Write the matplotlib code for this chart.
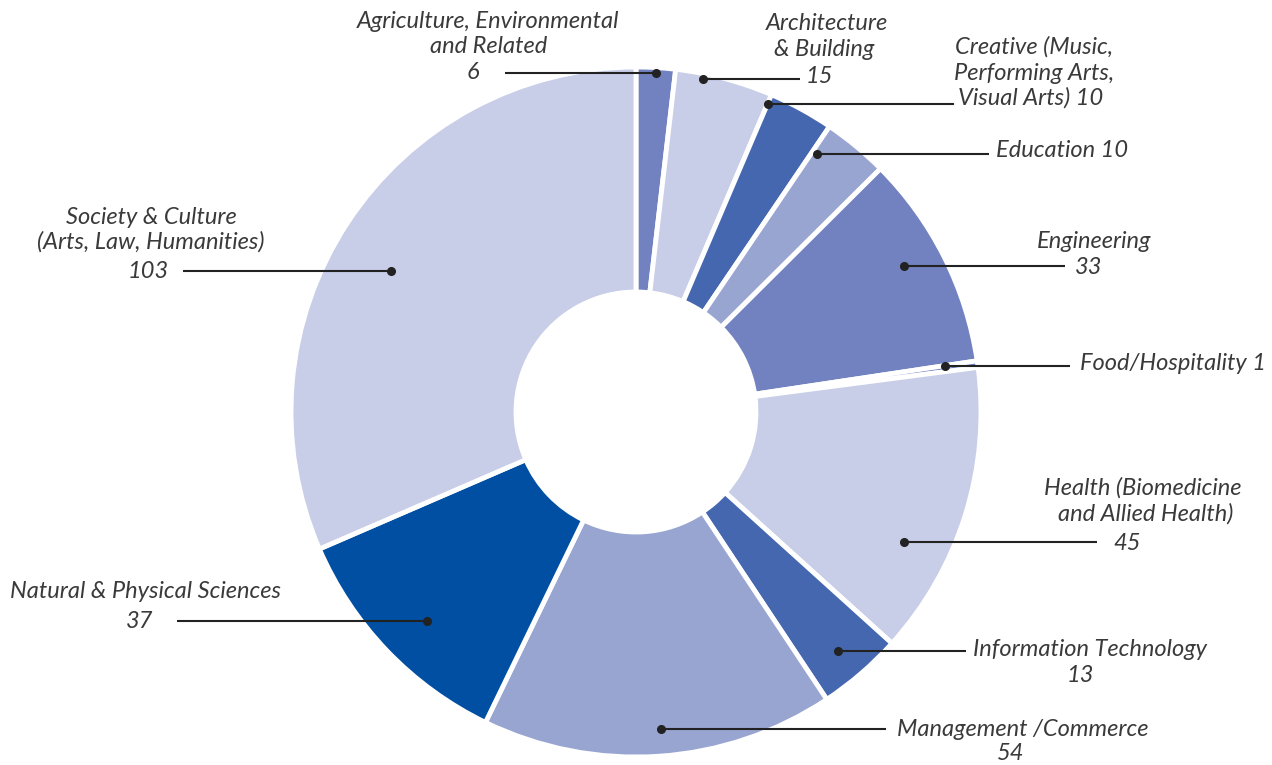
import numpy as np
import matplotlib.pyplot as plt

# categories and counts, clockwise from the top
categories = ['Agriculture, Environmental and Related', 'Architecture & Building',
              'Creative (Music, Performing Arts, Visual Arts)', 'Education',
              'Engineering', 'Food/Hospitality', 'Health (Biomedicine and Allied Health)',
              'Information Technology', 'Management /Commerce',
              'Natural & Physical Sciences', 'Society & Culture (Arts, Law, Humanities)']
values = [6, 15, 10, 10, 33, 1, 45, 13, 54, 37, 103]
colors = ['#7282c0', '#c8cde8', '#4567b0', '#99a5d1', '#7282c0', '#7282c0',
          '#c8cde8', '#4567b0', '#99a5d1', '#004fa3', '#c8cde8']

# label text, split into lines
label_lines = [
    ['Agriculture, Environmental', 'and Related', '6'],
    ['Architecture', '& Building', '15'],
    ['Creative (Music,', 'Performing Arts,', 'Visual Arts) 10'],
    ['Education 10'],
    ['Engineering', '33'],
    ['Food/Hospitality 1'],
    ['Health (Biomedicine', 'and Allied Health)', '45'],
    ['Information Technology', '13'],
    ['Management /Commerce', '54'],
    ['Natural & Physical Sciences', '37'],
    ['Society & Culture', '(Arts, Law, Humanities)', '103'],
]

# layout (pixels): line centres for each label line
line_pos = [
    [(488, 21), (489, 46), (473, 72)],
    [(827, 23), (824, 49), (819, 76)],
    [(1034, 47), (1034, 73), (1031, 98)],
    [(1062, 150)],
    [(1094, 241), (1089, 267)],
    [(1173, 363)],
    [(1143, 488), (1146, 514), (1127, 544)],
    [(1090, 650), (1080, 676)],
    [(1023, 729), (1011, 754)],
    [(145, 591), (140, 621)],
    [(151, 217), (151, 242), (148, 271)],
]
# leader: position of the dot inside the wedge (fraction of wedge, radius), and line end x
dot_frac = [0.5, 0.29, 0.0, 0.08, 0.45, 0.0, 0.67, 0.54, 0.49, 0.47, 0.47]
dot_r = [340, 340, 335, 315, 305, 312, 298, 313, 318, 296, 283]
line_end = [505, 800, 954, 989, 1065, 1070, 1097, 966, 886, 177, 183]

W, H = 1272, 765
cx, cy, R, r_in = 636, 412, 345, 120

fig = plt.figure(figsize=(W / 100, H / 100), dpi=100)
ax = fig.add_axes([0, 0, 1, 1])
ax.set_aspect('equal')
ax.axis('off')

wedges, _ = ax.pie(values, colors=colors, startangle=90, counterclock=False,
                   center=(cx, H - cy), radius=R,
                   wedgeprops=dict(width=R - r_in, edgecolor='white', linewidth=3.5))
ax.set_xlim(0, W)
ax.set_ylim(0, H)

for i, w in enumerate(wedges):
    # clockwise angle (from top) of the dot
    a1 = 90 - w.theta2
    a2 = 90 - w.theta1
    a = np.deg2rad(a1 + dot_frac[i] * (a2 - a1))
    dx = cx + dot_r[i] * np.sin(a)
    dy = (H - cy) + dot_r[i] * np.cos(a)
    ax.plot([dx, line_end[i]], [dy, dy], color='#222222', lw=1.5, solid_capstyle='butt', zorder=5)
    ax.plot(dx, dy, 'o', color='#222222', ms=5.5, zorder=6)
    for txt, (tx, ty) in zip(label_lines[i], line_pos[i]):
        ax.text(tx, H - ty, txt, ha='center', va='center', fontsize=17,
                family='Lato', style='italic', weight='normal', color='#3a3a3a')

fig.savefig('out.png', dpi=100, facecolor='white')
